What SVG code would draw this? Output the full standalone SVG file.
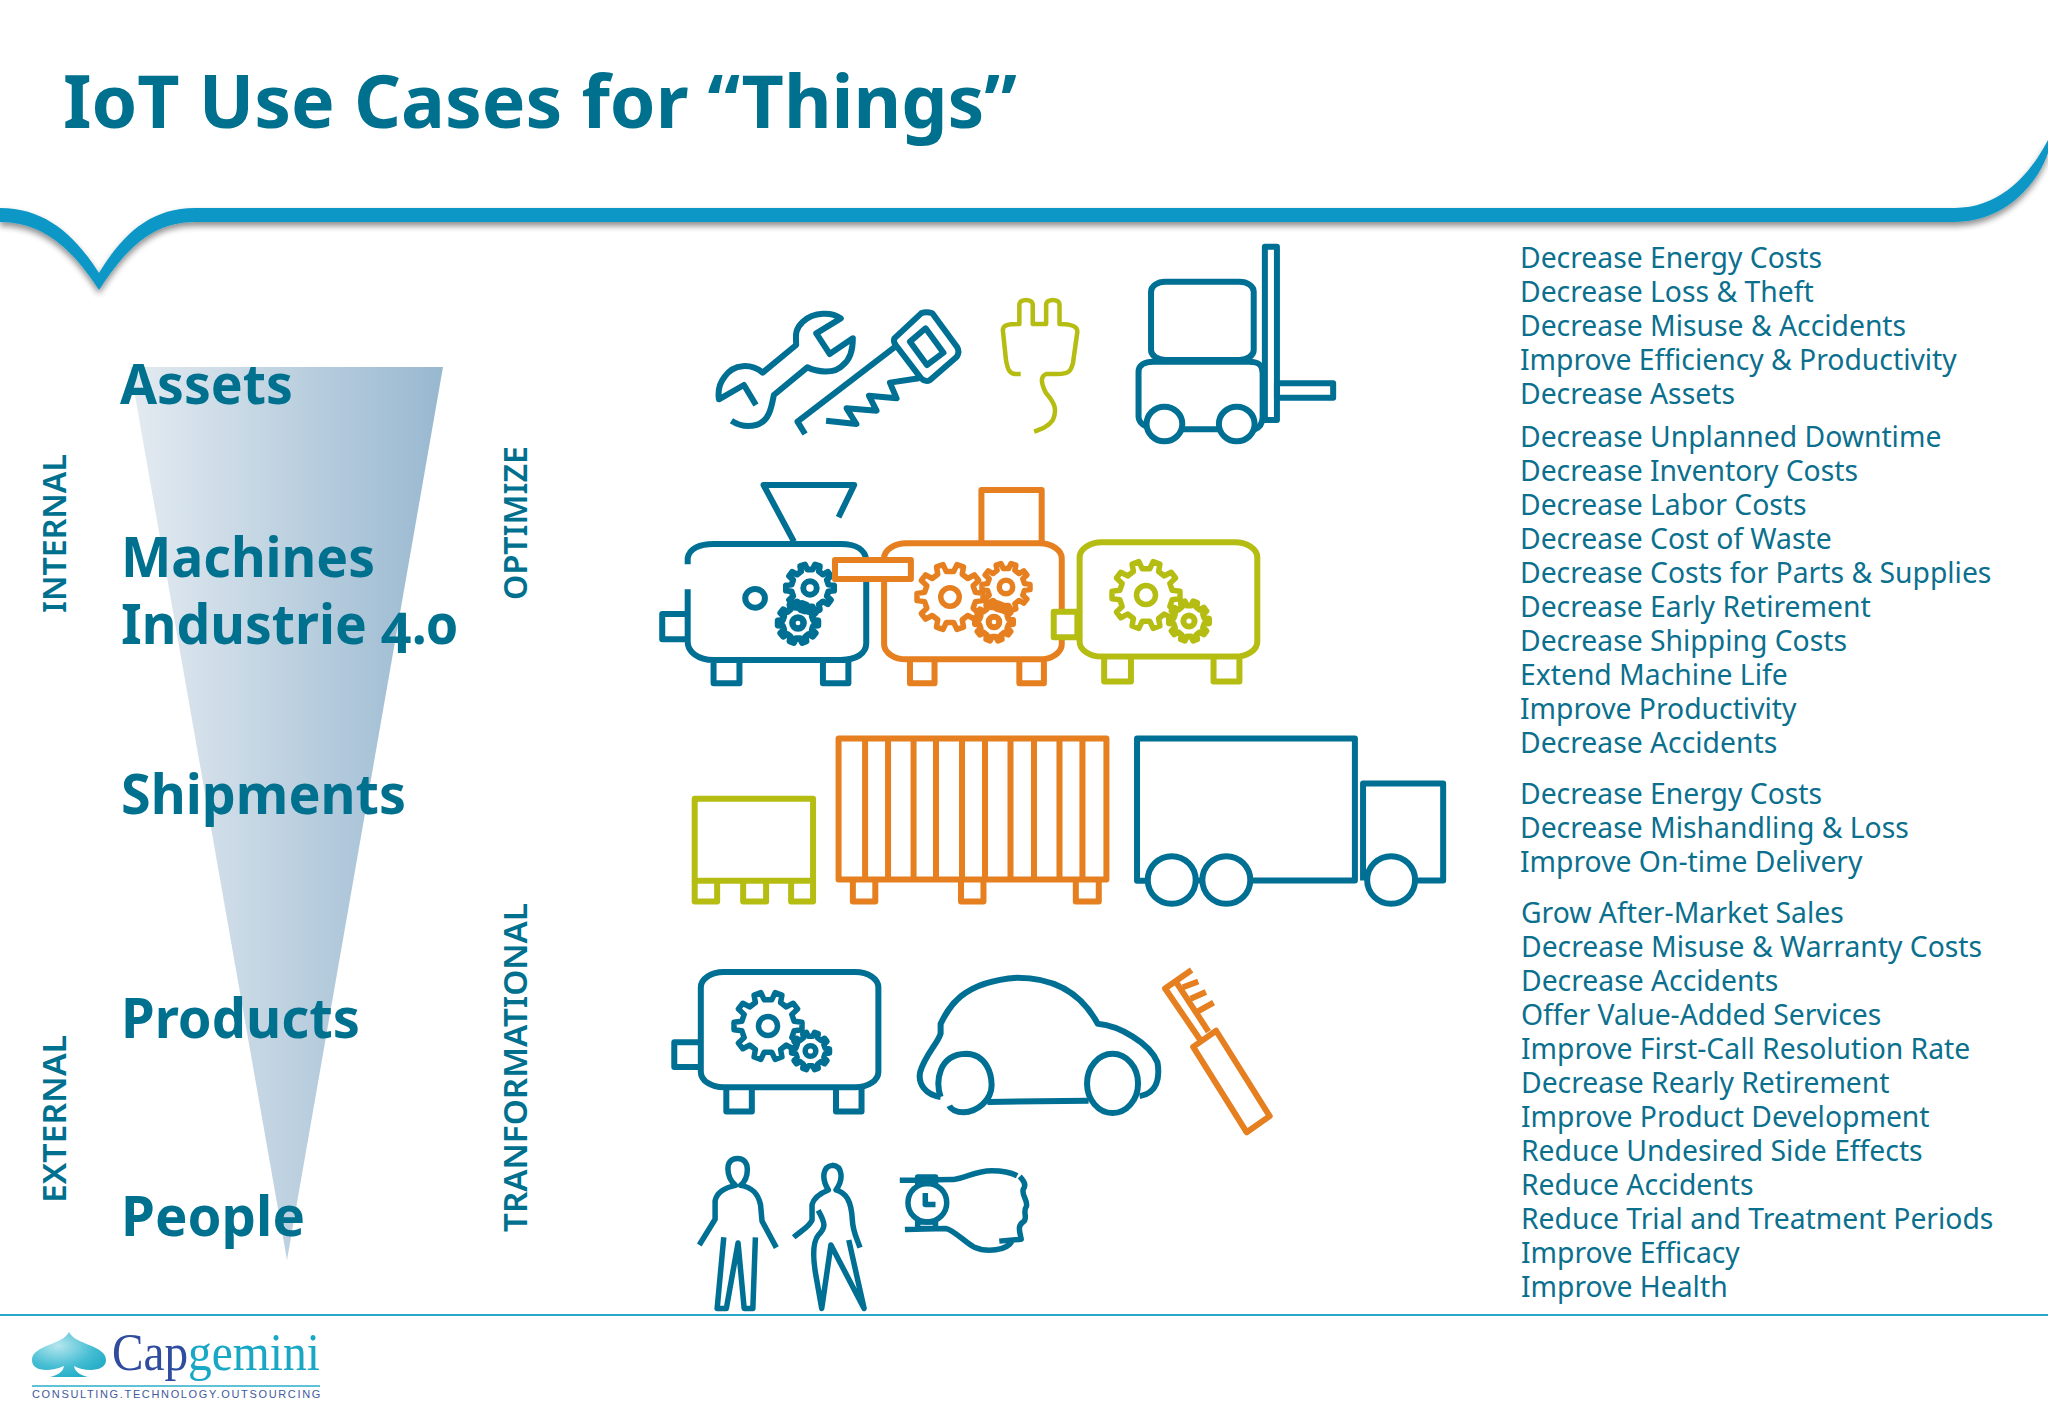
<svg xmlns="http://www.w3.org/2000/svg" xmlns:xlink="http://www.w3.org/1999/xlink" width="2048" height="1418" viewBox="0 0 2048 1418">
<style>
.title{font-family:"Noto Sans","Open Sans",sans-serif;font-weight:700;font-size:73px;fill:#00708f}
.big{font-family:"Noto Sans","Open Sans",sans-serif;font-weight:700;font-size:56px;fill:#00708f;font-variant-numeric:oldstyle-nums}
.side{font-family:"Noto Sans","Open Sans",sans-serif;font-weight:600;font-size:33px;fill:#00708f}
.list{font-family:"Noto Sans","Open Sans",sans-serif;font-size:28.300px;fill:#0b6f8e}
.ic *{fill:none;stroke-linejoin:round;vector-effect:non-scaling-stroke}
.b{stroke:#006f94;stroke-width:6}
.o{stroke:#e57f1f;stroke-width:6}
.g{stroke:#b5bd12;stroke-width:6}
.gs{fill:none;stroke-linejoin:round;vector-effect:non-scaling-stroke}
</style>
<defs>
<linearGradient id="fun" gradientUnits="userSpaceOnUse" x1="130" y1="0" x2="443" y2="0"><stop offset="0" stop-color="#e4ebf1"/><stop offset="1" stop-color="#98b8d0"/></linearGradient>
<radialGradient id="spade" cx=".35" cy=".3" r=".8"><stop offset="0" stop-color="#b5e6ee"/><stop offset=".6" stop-color="#45bdd3"/><stop offset="1" stop-color="#1ea9c5"/></radialGradient>
<filter id="sh" x="-5%" y="-30%" width="110%" height="170%"><feGaussianBlur in="SourceAlpha" stdDeviation="3"/><feOffset dy="4"/><feComponentTransfer><feFuncA type="linear" slope=".45"/></feComponentTransfer><feMerge><feMergeNode/><feMergeNode in="SourceGraphic"/></feMerge></filter>
<g id="gear"><polygon class="gs" points="77,-14 100,-11 100,11 77,14 70,34 87,50 74,67 54,56 37,69 41,91 21,98 11,77 -11,77 -21,98 -41,91 -37,69 -54,56 -74,67 -87,50 -70,34 -77,14 -100,11 -100,-11 -77,-14 -70,-34 -87,-50 -74,-67 -54,-56 -37,-69 -41,-91 -21,-98 -11,-77 11,-77 21,-98 41,-91 37,-69 54,-56 74,-67 87,-50 70,-34"/><circle class="gs" r="28"/></g>
</defs>
<rect width="2048" height="1418" fill="#fff"/>
<g id="header">
<path d="M0 208C45 208 75 235 99 273C122 235 150 208 195 208L1955 208C2000 208 2030 175 2048 140L2048 153C2035 190 2000 222 1955 222L195 222C155 222 128 245 99 290C70 245 40 222 0 222Z" fill="#0a97c6" filter="url(#sh)"/>
<text class="title" x="63" y="128" textLength="954" lengthAdjust="spacingAndGlyphs">IoT Use Cases for “Things”</text>
</g>
<g id="funnel"><polygon points="130,367 443,367 287,1260" fill="url(#fun)"/></g>
<g id="stages">
<text class="big" x="120" y="404" textLength="173" lengthAdjust="spacingAndGlyphs">Assets</text>
<text class="big" x="121" y="577" textLength="254" lengthAdjust="spacingAndGlyphs">Machines</text>
<text class="big" x="121" y="644" textLength="337" lengthAdjust="spacingAndGlyphs">Industrie 4.0</text>
<text class="big" x="121" y="814" textLength="285" lengthAdjust="spacingAndGlyphs">Shipments</text>
<text class="big" x="121" y="1038" textLength="239" lengthAdjust="spacingAndGlyphs">Products</text>
<text class="big" x="121" y="1236" textLength="184" lengthAdjust="spacingAndGlyphs">People</text>
</g>
<g id="side-labels">
<text class="side" transform="translate(66 613) rotate(-90)" textLength="159" lengthAdjust="spacingAndGlyphs">INTERNAL</text>
<text class="side" transform="translate(66 1203) rotate(-90)" textLength="168" lengthAdjust="spacingAndGlyphs">EXTERNAL</text>
<text class="side" transform="translate(527 600) rotate(-90)" textLength="154" lengthAdjust="spacingAndGlyphs">OPTIMIZE</text>
<text class="side" transform="translate(527 1232) rotate(-90)" textLength="329" lengthAdjust="spacingAndGlyphs">TRANFORMATIONAL</text>
</g>

<g id="wrench" class="ic" transform="translate(660 230) scale(.4464 .3333)"><path class="b" d="M160 572C175 585 195 592 215 585C245 575 250 530 255 495L330 412C350 425 390 435 410 405C430 385 432 350 432 325L380 372L350 310L405 265C385 245 345 245 320 275C300 300 305 320 305 345L230 428C205 400 165 400 145 440C130 465 130 490 132 508L188 465L215 525"/></g>
<g id="saw" class="ic" transform="translate(660 230) scale(.4464 .3333)"><path class="b" d="M325 612L308 575L525 352M525 325L585 250Q597 243 610 250L665 350Q672 365 665 380L605 450Q595 458 585 445L528 345Q522 335 525 325ZM595 295L635 368L598 405L560 335ZM580 445L515 458L530 505L468 497L485 542L418 535L440 582L372 572"/></g>
<g id="plug" class="ic" transform="translate(660 230) scale(.4464 .3333)"><path class="g" style="stroke-width:4.5" d="M808 432L795 432C780 430 778 410 775 390L768 300C768 285 780 282 805 282L805 225C805 205 835 205 835 225L835 282L865 282L865 225C865 205 895 205 895 225L895 282C925 282 935 290 935 305L925 400C920 425 915 432 890 432L865 432C850 440 855 465 865 490C885 520 890 540 880 570C870 590 855 597 838 605"/></g>
<g id="forklift" class="ic" transform="translate(660 230) scale(.4464 .3333)"><rect class="b" x="1355" y="50" width="27" height="520"/><rect class="b" x="1100" y="155" width="230" height="235" rx="32" ry="30"/><path class="b" d="M1090 590C1075 580 1072 570 1072 560L1072 425C1072 405 1085 395 1105 395L1320 395C1345 395 1350 410 1350 430L1350 560C1350 585 1340 595 1330 600M1170 598L1255 598"/><ellipse class="b" cx="1130" cy="582" rx="40" ry="52"/><ellipse class="b" cx="1292" cy="582" rx="40" ry="52"/><rect class="b" x="1382" y="460" width="126" height="43"/></g>

<g id="machine-blue" class="ic" transform="translate(660 230) scale(.4464 .3333)"><path class="b" d="M300 935L232 765L435 765L400 862M62 1003L62 985C65 955 90 942 120 942L405 942C440 942 460 960 462 990M462 1050L462 1240C462 1270 440 1290 405 1290L120 1290C85 1290 62 1265 62 1235L62 1078M62 1152L5 1152L5 1228L62 1228M120 1290V1360H178V1290M365 1290V1360H422V1290"/><ellipse class="b" cx="213" cy="1105" rx="22" ry="28"/></g>
<g id="gears-blue" stroke="#006f94"><use xlink:href="#gear" href="#gear" stroke-width="6" transform="translate(810 588) scale(.24)"/><use xlink:href="#gear" href="#gear" stroke-width="6.500" transform="translate(798 623) scale(.2)"/></g>
<g id="machine-orange" class="ic" transform="translate(660 230) scale(.4464 .3333)"><rect class="o" x="502" y="940" width="398" height="348" rx="50" ry="45"/><path class="o" d="M720 940V780H855V940M560 1288V1360H615V1288M805 1288V1360H860V1288"/><rect class="o" x="392" y="990" width="170" height="57" style="fill:#fff"/></g>
<g id="gears-orange" stroke="#e57f1f"><use xlink:href="#gear" href="#gear" stroke-width="5.500" transform="translate(950 597) scale(.33)"/><use xlink:href="#gear" href="#gear" stroke-width="5.500" transform="translate(1006 587) scale(.24)"/><use xlink:href="#gear" href="#gear" stroke-width="6" transform="translate(994 622) scale(.19)"/></g>
<g id="machine-green" class="ic" transform="translate(660 230) scale(.4464 .3333)"><rect class="g" x="940" y="937" width="398" height="343" rx="50" ry="45"/><path class="g" d="M995 1280V1355H1055V1280M1240 1280V1355H1298V1280"/><rect class="g" x="882" y="1145" width="53" height="77" style="fill:#fff"/></g>
<g id="gears-green" stroke="#b5bd12"><use xlink:href="#gear" href="#gear" stroke-width="5.500" transform="translate(1146 595) scale(.34)"/><use xlink:href="#gear" href="#gear" stroke-width="6" transform="translate(1189 621) scale(.2)"/></g>

<g id="pallet" class="ic" transform="translate(660 720) scale(.5102 .3846)"><rect class="g" x="68" y="205" width="232" height="213"/><path class="g" d="M68 418V472H112V418M163 418V472H208V418M257 418V472H300V418"/></g>
<g id="container" class="ic" transform="translate(660 720) scale(.5102 .3846)"><rect class="o" x="350" y="48" width="525" height="367"/><path class="o" d="M402 48V415M447 48V415M497 48V415M541 48V415M592 48V415M637 48V415M687 48V415M733 48V415M783 48V415M828 48V415M378 415V472H422V415M590 415V472H634V415M815 415V472H860V415"/></g>
<g id="truck" class="ic" transform="translate(660 720) scale(.5102 .3846)"><path class="b" d="M955 418L935 418L935 48L1362 48L1362 417L1160 417M1052 417L1062 417M1378 417V165H1535V417H1480"/><ellipse class="b" cx="1003" cy="416" rx="47" ry="62"/><ellipse class="b" cx="1110" cy="416" rx="47" ry="62"/><ellipse class="b" cx="1433" cy="416" rx="47" ry="62"/></g>

<g id="product-machine" class="ic" transform="translate(660 720) scale(.5102 .3846)"><rect class="b" x="80" y="655" width="348" height="300" rx="45" ry="40"/><path class="b" d="M80 838H28V902H80M130 955V1018H180V955M345 955V1018H395V955"/></g>
<g id="gears-product" stroke="#006f94"><use xlink:href="#gear" href="#gear" stroke-width="5.500" transform="translate(768 1026) scale(.34)"/><use xlink:href="#gear" href="#gear" stroke-width="5.500" transform="translate(810.500 1051) scale(.19)"/></g>
<g id="car" class="ic" transform="translate(660 720) scale(.5102 .3846)"><path class="b" d="M550 980C520 975 505 945 510 915C520 870 545 840 550 815L550 790C565 750 590 680 700 670C780 670 830 720 858 790C900 795 960 840 975 890C980 930 975 970 940 978M550 980C540 940 545 870 600 868C640 870 650 920 650 950C650 990 620 1020 595 1020C580 1020 570 1012 567 1003M642 993L840 990"/><ellipse class="b" cx="887" cy="945" rx="50" ry="77"/></g>
<g id="toothbrush" class="ic" transform="translate(660 720) scale(.5102 .3846)"><polygon class="o" points="1045,850 1090,808 1195,1030 1150,1072"/><path class="o" d="M1058 830L990 698L1042 650M1012 682L1075 810M1025 695L1055 680M1040 725L1070 707M1055 757L1085 735"/></g>
<g id="person-1" class="ic" transform="translate(660 720) scale(.5102 .3846)"><path class="b" style="stroke-width:5.500" d="M77 1365L108 1298L108 1250C112 1225 130 1215 148 1210C130 1190 125 1140 152 1140C178 1140 175 1190 158 1210C180 1215 192 1230 197 1260L200 1303L228 1372M125 1345L112 1530L130 1530L153 1360L165 1530L182 1530L187 1345"/></g>
<g id="person-2" class="ic" transform="translate(660 720) scale(.5102 .3846)"><path class="b" style="stroke-width:5.500" d="M262 1345C275 1330 295 1315 298 1300L298 1260C302 1240 315 1230 330 1222C315 1190 320 1160 338 1158C358 1160 360 1195 345 1222C365 1230 375 1250 377 1300C378 1330 385 1345 392 1372M310 1275C325 1310 325 1320 310 1340C298 1360 300 1400 305 1440L317 1530L335 1365L400 1530L370 1352"/></g>
<g id="wrist-watch" class="ic" transform="translate(660 720) scale(.5102 .3846)"><path class="b" style="stroke-width:5.500" d="M470 1197L575 1195C600 1190 620 1172 650 1172C670 1172 690 1178 700 1185M705 1187C715 1200 718 1210 712 1220C708 1235 722 1250 718 1265C710 1280 722 1295 712 1305C700 1315 705 1330 708 1350L665 1355M690 1355C680 1380 640 1385 615 1370C600 1360 575 1325 560 1322L480 1325M505 1188H540V1205H505ZM505 1305H540V1322H505ZM520 1230L520 1260L540 1260"/><ellipse class="b" style="stroke-width:5.500" cx="524" cy="1255" rx="38" ry="50"/></g>

<g id="benefits">
<text class="list" x="1520" y="268">Decrease Energy Costs</text>
<text class="list" x="1520" y="302">Decrease Loss &amp; Theft</text>
<text class="list" x="1520" y="336">Decrease Misuse &amp; Accidents</text>
<text class="list" x="1520" y="370">Improve Efficiency &amp; Productivity</text>
<text class="list" x="1520" y="404">Decrease Assets</text>
<text class="list" x="1520" y="447">Decrease Unplanned Downtime</text>
<text class="list" x="1520" y="481">Decrease Inventory Costs</text>
<text class="list" x="1520" y="515">Decrease Labor Costs</text>
<text class="list" x="1520" y="549">Decrease Cost of Waste</text>
<text class="list" x="1520" y="583">Decrease Costs for Parts &amp; Supplies</text>
<text class="list" x="1520" y="617">Decrease Early Retirement</text>
<text class="list" x="1520" y="651">Decrease Shipping Costs</text>
<text class="list" x="1520" y="685">Extend Machine Life</text>
<text class="list" x="1520" y="719">Improve Productivity</text>
<text class="list" x="1520" y="753">Decrease Accidents</text>
<text class="list" x="1520" y="804">Decrease Energy Costs</text>
<text class="list" x="1520" y="838">Decrease Mishandling &amp; Loss</text>
<text class="list" x="1520" y="872">Improve On-time Delivery</text>
<text class="list" x="1521" y="923">Grow After-Market Sales</text>
<text class="list" x="1521" y="957">Decrease Misuse &amp; Warranty Costs</text>
<text class="list" x="1521" y="991">Decrease Accidents</text>
<text class="list" x="1521" y="1025">Offer Value-Added Services</text>
<text class="list" x="1521" y="1059">Improve First-Call Resolution Rate</text>
<text class="list" x="1521" y="1093">Decrease Rearly Retirement</text>
<text class="list" x="1521" y="1127">Improve Product Development</text>
<text class="list" x="1521" y="1161">Reduce Undesired Side Effects</text>
<text class="list" x="1521" y="1195">Reduce Accidents</text>
<text class="list" x="1521" y="1229">Reduce Trial and Treatment Periods</text>
<text class="list" x="1521" y="1263">Improve Efficacy</text>
<text class="list" x="1521" y="1297">Improve Health</text>
</g>
<g id="footer">
<rect x="0" y="1314" width="2048" height="2" fill="#29a9c9"/>
<path d="M69 1332C75 1345 106 1345 106 1360C106 1372 85 1372 74 1366C75 1372 80 1375 88 1377L50 1377C58 1375 63 1372 64 1366C50 1372 32 1372 32 1360C32 1345 63 1345 69 1332Z" fill="url(#spade)"/>
<text x="112" y="1370" font-family="Liberation Serif,serif" font-size="53" fill="#2f4c9f" textLength="76" lengthAdjust="spacingAndGlyphs">Cap</text>
<text x="188" y="1370" font-family="Liberation Serif,serif" font-size="53" fill="#18a7c4" textLength="132" lengthAdjust="spacingAndGlyphs">gemini</text>
<rect x="32" y="1385" width="288" height="2" fill="#5fc2d6"/>
<text x="32" y="1398" font-family="Liberation Sans,sans-serif" font-size="11" fill="#3f5a9e" letter-spacing="1.650">CONSULTING.TECHNOLOGY.OUTSOURCING</text>
</g>
</svg>
